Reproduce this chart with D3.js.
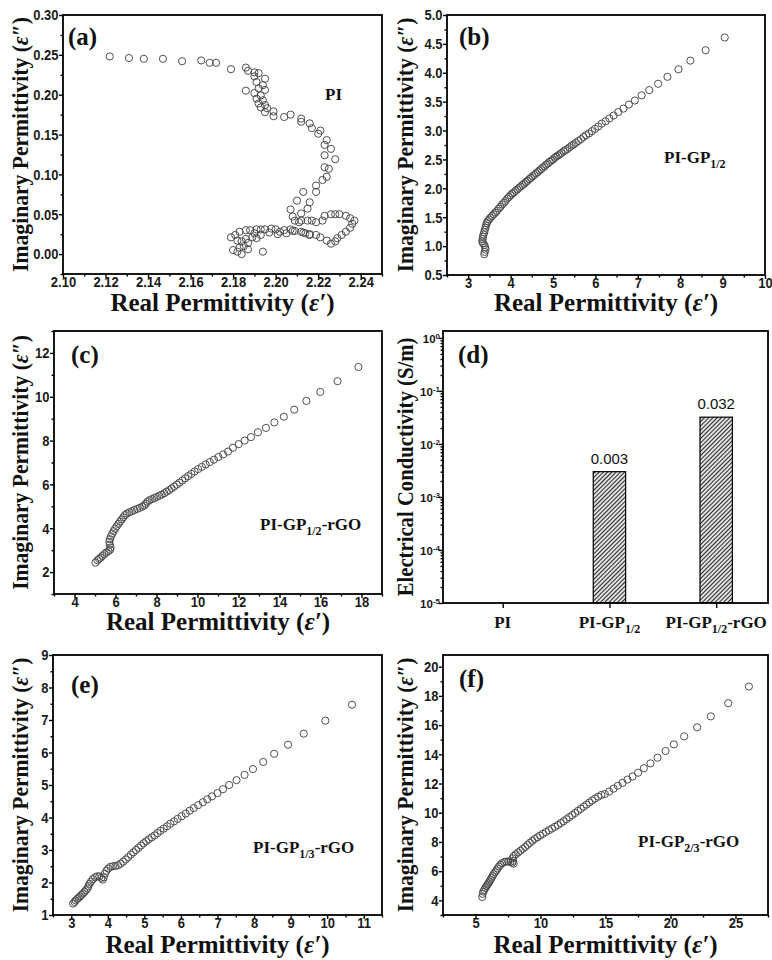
<!DOCTYPE html>
<html>
<head>
<meta charset="utf-8">
<script src="https://cdn.jsdelivr.net/npm/d3@7"></script>
<style>
  body { margin: 0; background: #fff; }
  svg { display: block; }
  .tk text { font-family: "Liberation Sans", Arial, sans-serif; font-weight: bold; font-size: 13px; fill: #1a1a1a; }
  .tk line { stroke: #000; stroke-width: 1.4; }
  .serif { font-family: "Liberation Serif", "Times New Roman", serif; font-weight: bold; fill: #111; }
</style>
</head>
<body>
<svg id="fig" width="772" height="960"></svg>
<script>
// ---- Cole–Cole data: [real ε′, imaginary ε″] ----
const piData = [
  [2.122,0.248],[2.131,0.246],[2.138,0.245],[2.147,0.245],[2.156,0.242],[2.165,0.243],[2.169,0.240],[2.172,0.240],
  [2.179,0.232],[2.186,0.234],[2.187,0.230],[2.190,0.228],[2.192,0.227],[2.190,0.223],[2.195,0.220],[2.191,0.216],
  [2.194,0.212],[2.192,0.208],[2.186,0.205],[2.190,0.202],[2.195,0.206],[2.193,0.199],[2.191,0.195],[2.194,0.193],
  [2.192,0.189],[2.195,0.187],[2.193,0.184],[2.196,0.183],[2.195,0.178],[2.199,0.179],[2.199,0.173],[2.204,0.172],
  [2.207,0.175],[2.212,0.166],[2.212,0.170],[2.216,0.164],[2.217,0.158],[2.221,0.155],[2.220,0.151],[2.224,0.143],
  [2.223,0.137],[2.226,0.132],[2.223,0.124],[2.228,0.119],[2.223,0.109],[2.225,0.107],[2.224,0.097],[2.222,0.093],
  [2.219,0.086],[2.219,0.078],[2.213,0.078],[2.216,0.065],[2.210,0.067],[2.215,0.057],[2.207,0.056],[2.212,0.051],
  [2.208,0.047],[2.211,0.040],[2.209,0.042],[2.212,0.042],[2.215,0.042],[2.217,0.042],[2.219,0.040],[2.222,0.042],
  [2.223,0.048],[2.226,0.050],[2.228,0.050],[2.230,0.050],[2.233,0.048],[2.235,0.045],[2.237,0.042],[2.236,0.038],
  [2.235,0.033],[2.233,0.028],[2.231,0.024],[2.229,0.020],[2.228,0.016],[2.226,0.013],[2.224,0.017],[2.221,0.021],
  [2.219,0.024],[2.216,0.024],[2.214,0.026],[2.212,0.028],[2.209,0.029],[2.207,0.031],[2.204,0.030],[2.202,0.028],
  [2.200,0.031],[2.198,0.032],[2.197,0.027],[2.201,0.025],[2.205,0.026],[2.208,0.029],[2.213,0.027],[2.216,0.025],
  [2.195,0.031],[2.193,0.031],[2.191,0.031],[2.188,0.030],[2.186,0.030],[2.183,0.028],[2.181,0.024],[2.179,0.021],
  [2.182,0.017],[2.184,0.016],[2.186,0.019],[2.189,0.021],[2.191,0.020],[2.193,0.024],[2.190,0.026],[2.187,0.014],
  [2.185,0.010],[2.183,0.008],[2.180,0.005],[2.182,0.003],[2.184,0.000],[2.187,0.006],[2.194,0.003]
];

const gp12Data = [
  [9.05,4.61],[8.60,4.39],[8.24,4.21],[7.96,4.06],[7.70,3.93],[7.48,3.81],[7.27,3.70],[7.09,3.61],
  [6.93,3.52],[6.79,3.45],[6.66,3.38],[6.54,3.32],[6.43,3.26],[6.33,3.21],[6.24,3.16],[6.15,3.12],
  [6.07,3.07],[5.99,3.03],[5.92,2.99],[5.85,2.95],[5.78,2.92],[5.72,2.89],[5.66,2.85],[5.60,2.82],
  [5.54,2.79],[5.49,2.76],[5.44,2.74],[5.39,2.71],[5.34,2.68],[5.29,2.66],[5.25,2.64],[5.20,2.61],
  [5.16,2.59],[5.12,2.57],[5.08,2.55],[5.04,2.53],[5.00,2.50],[4.96,2.48],[4.92,2.46],[4.88,2.43],
  [4.84,2.41],[4.80,2.38],[4.76,2.36],[4.72,2.33],[4.68,2.31],[4.64,2.28],[4.60,2.26],[4.56,2.23],
  [4.52,2.21],[4.48,2.18],[4.44,2.16],[4.40,2.13],[4.36,2.11],[4.32,2.08],[4.28,2.06],[4.24,2.03],
  [4.20,2.01],[4.16,1.98],[4.12,1.96],[4.08,1.93],[4.04,1.91],[4.00,1.88],[3.96,1.85],[3.92,1.82],
  [3.88,1.78],[3.84,1.75],[3.80,1.72],[3.76,1.68],[3.72,1.65],[3.68,1.61],[3.64,1.58],[3.60,1.55],
  [3.56,1.52],[3.52,1.49],[3.49,1.46],[3.46,1.43],[3.44,1.40],[3.42,1.36],[3.41,1.32],[3.39,1.28],
  [3.38,1.24],[3.36,1.20],[3.35,1.16],[3.34,1.12],[3.33,1.08],[3.35,1.05],[3.38,1.02],[3.40,0.98],
  [3.41,0.94],[3.39,0.90],[3.38,0.86]
];

const gp12rgoData = [
  [17.85,11.36],[16.83,10.71],[15.99,10.22],[15.31,9.81],[14.72,9.41],[14.21,9.09],[13.75,8.83],[13.34,8.58],
  [12.95,8.38],[12.61,8.16],[12.30,8.00],[12.01,7.84],[11.73,7.67],[11.49,7.50],[11.25,7.37],[11.02,7.25],
  [10.80,7.13],[10.60,7.02],[10.40,6.91],[10.21,6.80],[10.03,6.70],[9.86,6.59],[9.70,6.48],[9.55,6.38],
  [9.40,6.28],[9.26,6.18],[9.12,6.08],[8.99,5.99],[8.86,5.90],[8.74,5.82],[8.62,5.74],[8.50,5.67],
  [8.38,5.60],[8.26,5.54],[8.14,5.48],[8.02,5.43],[7.90,5.38],[7.78,5.33],[7.66,5.28],[7.56,5.21],
  [7.48,5.12],[7.40,5.04],[7.30,4.98],[7.18,4.93],[7.05,4.88],[6.92,4.83],[6.80,4.78],[6.68,4.73],
  [6.56,4.67],[6.46,4.60],[6.38,4.50],[6.30,4.40],[6.22,4.30],[6.14,4.20],[6.06,4.09],[5.98,3.98],
  [5.91,3.87],[5.84,3.75],[5.78,3.63],[5.73,3.50],[5.70,3.38],[5.72,3.25],[5.76,3.12],[5.74,3.02],
  [5.66,2.96],[5.56,2.90],[5.46,2.82],[5.36,2.74],[5.28,2.66],[5.20,2.60],[5.12,2.54],[5.02,2.43]
];

const gp13rgoData = [
  [3.05,1.35],[3.09,1.40],[3.12,1.45],[3.16,1.49],[3.20,1.53],[3.24,1.57],[3.28,1.62],[3.32,1.66],
  [3.36,1.71],[3.40,1.76],[3.44,1.82],[3.47,1.89],[3.50,1.96],[3.54,2.03],[3.59,2.10],[3.65,2.16],
  [3.71,2.19],[3.77,2.19],[3.82,2.14],[3.86,2.09],[3.89,2.16],[3.92,2.27],[3.96,2.36],[4.01,2.43],
  [4.07,2.48],[4.14,2.50],[4.21,2.51],[4.28,2.53],[4.35,2.58],[4.42,2.64],[4.49,2.71],[4.56,2.78],
  [4.63,2.86],[4.70,2.93],[4.77,3.00],[4.84,3.07],[4.91,3.14],[4.98,3.21],[5.05,3.27],[5.12,3.33],
  [5.20,3.39],[5.28,3.45],[5.36,3.52],[5.44,3.59],[5.53,3.66],[5.62,3.73],[5.71,3.81],[5.81,3.88],
  [5.91,3.96],[6.02,4.04],[6.13,4.12],[6.24,4.21],[6.35,4.29],[6.47,4.38],[6.60,4.47],[6.72,4.56],
  [6.85,4.65],[7.00,4.75],[7.15,4.87],[7.32,5.00],[7.52,5.15],[7.74,5.31],[7.97,5.49],[8.25,5.71],
  [8.55,5.96],[8.93,6.24],[9.36,6.58],[9.95,6.98],[10.68,7.47]
];

const gp23rgoData = [
  [5.52,4.23],[5.55,4.45],[5.60,4.60],[5.68,4.72],[5.76,4.85],[5.84,4.97],[5.92,5.08],[6.00,5.18],
  [6.08,5.30],[6.16,5.42],[6.24,5.55],[6.32,5.67],[6.40,5.80],[6.50,5.93],[6.60,6.05],[6.70,6.18],
  [6.80,6.32],[6.92,6.44],[7.05,6.55],[7.20,6.62],[7.36,6.66],[7.52,6.66],[7.68,6.64],[7.82,6.58],
  [7.94,6.52],[7.90,6.70],[7.85,6.88],[7.95,7.04],[8.10,7.16],[8.28,7.28],[8.46,7.40],[8.64,7.53],
  [8.82,7.66],[9.00,7.80],[9.18,7.94],[9.37,8.08],[9.56,8.20],[9.76,8.32],[9.97,8.44],[10.19,8.56],
  [10.42,8.68],[10.65,8.80],[10.88,8.92],[11.11,9.04],[11.34,9.16],[11.56,9.29],[11.78,9.42],[12.00,9.56],
  [12.22,9.70],[12.44,9.84],[12.66,9.98],[12.88,10.13],[13.10,10.27],[13.32,10.42],[13.54,10.56],[13.76,10.70],
  [13.98,10.84],[14.20,10.97],[14.44,11.10],[14.68,11.22],[14.95,11.28],[15.28,11.45],[15.62,11.65],[15.95,11.85],
  [16.31,12.05],[16.69,12.27],[17.08,12.48],[17.51,12.74],[17.95,13.05],[18.46,13.38],[19.00,13.77],[19.62,14.23],
  [20.26,14.68],[21.05,15.23],[22.05,15.85],[23.10,16.60],[24.44,17.50],[26.03,18.64]
];

// ---- electrical conductivity bars ----
const sigmaCategories = ["PI", "PI-GP1/2", "PI-GP1/2-rGO"];
const sigmaValues = [null, 0.003, 0.032];

// ---- tick labels ----
const aXTicks = [2.10, 2.12, 2.14, 2.16, 2.18, 2.20, 2.22, 2.24];
const aYTicks = [0.00, 0.05, 0.10, 0.15, 0.20, 0.25, 0.30];
const bXTicks = [3, 4, 5, 6, 7, 8, 9, 10];
const bYTicks = [0.5, 1.0, 1.5, 2.0, 2.5, 3.0, 3.5, 4.0, 4.5, 5.0];
const cXTicks = [4, 6, 8, 10, 12, 14, 16, 18];
const cYTicks = [2, 4, 6, 8, 10, 12];
const dYTicks = [1, 1e-1, 1e-2, 1e-3, 1e-4, 1e-5];
const eXTicks = [3, 4, 5, 6, 7, 8, 9, 10, 11];
const eYTicks = [1, 2, 3, 4, 5, 6, 7, 8, 9];
const fXTicks = [5, 10, 15, 20, 25];
const fYTicks = [4, 6, 8, 10, 12, 14, 16, 18, 20];

const svg = d3.select("#fig");

// diagonal hatch for the bars
const defs = svg.append("defs");
const hatch = defs.append("pattern")
  .attr("id", "hatch").attr("patternUnits", "userSpaceOnUse")
  .attr("width", 3).attr("height", 3).attr("patternTransform", "rotate(45)");
hatch.append("rect").attr("width", 3).attr("height", 3).attr("fill", "#efefef");
hatch.append("line").attr("x1", 1.5).attr("y1", 0).attr("x2", 1.5).attr("y2", 3)
  .attr("stroke", "#2a2a2a").attr("stroke-width", 1.15);

// text with "n/m" fractions set as subscripts
function richLabel(textSel, label, subSize, shift) {
  const parts = label.split(/(\d\/\d)/).filter(s => s.length);
  let lowered = false;
  parts.forEach(p => {
    const t = textSel.append("tspan").text(p);
    if (/^\d\/\d$/.test(p)) { t.attr("font-size", subSize).attr("dy", shift); lowered = true; }
    else if (lowered) { t.attr("dy", -shift); lowered = false; }
  });
  return textSel;
}

function epsTitle(g, x, y, base, primes, size, rotate) {
  const t = g.append("text").attr("class", "serif").attr("font-size", size)
    .attr("text-anchor", "middle");
  if (rotate) t.attr("transform", `translate(${x},${y}) rotate(-90) scale(0.9,1)`);
  else t.attr("x", x).attr("y", y);
  t.append("tspan").text(base + " (");
  t.append("tspan").attr("font-style", "italic").text("ε" + primes);
  t.append("tspan").text(")");
}

function minorValues(domain, step, majors) {
  const lo = Math.ceil(Math.min(...domain) / step - 1e-9);
  const hi = Math.floor(Math.max(...domain) / step + 1e-9);
  return d3.range(lo, hi + 1).map(k => +(k * step).toFixed(6))
    .filter(v => !majors.some(m => Math.abs(m - v) < step * 1e-3));
}

function styleAxis(sel) {
  sel.attr("font-size", null).attr("font-family", null).attr("class", "tk");
  sel.select(".domain").remove();
}
// tick numerals are drawn slightly tall
function tallText(sel) {
  sel.selectAll(".tick text").attr("transform", "scale(1,1.15)");
}

function drawScatter(p) {
  const [x0, y0, x1, y1] = p.box;
  const g = svg.append("g");
  const x = d3.scaleLinear().domain(p.xDomain).range([x0, x1]);
  const y = d3.scaleLinear().domain(p.yDomain).range([y1, y0]);

  g.append("g").selectAll("circle").data(p.data).join("circle")
    .attr("cx", d => x(d[0])).attr("cy", d => y(d[1])).attr("r", 3.6)
    .attr("fill", "none").attr("stroke", "#474747").attr("stroke-width", 0.95);

  // minor ticks
  g.append("g").attr("transform", `translate(0,${y1})`)
    .call(d3.axisBottom(x).tickValues(minorValues(p.xDomain, p.xMinor, p.xTicks)).tickSize(2.5).tickFormat(""))
    .call(styleAxis);
  g.append("g").attr("transform", `translate(${x0},0)`)
    .call(d3.axisLeft(y).tickValues(minorValues(p.yDomain, p.yMinor, p.yTicks)).tickSize(2.5).tickFormat(""))
    .call(styleAxis);
  // major ticks
  g.append("g").attr("transform", `translate(0,${y1})`)
    .call(d3.axisBottom(x).tickValues(p.xTicks).tickSize(4).tickPadding(-2.2).tickFormat(d3.format(p.xFormat)))
    .call(styleAxis).call(tallText);
  g.append("g").attr("transform", `translate(${x0},0)`)
    .call(d3.axisLeft(y).tickValues(p.yTicks).tickSize(4).tickPadding(0.5).tickFormat(d3.format(p.yFormat)))
    .call(styleAxis).call(tallText);

  g.append("rect").attr("x", x0).attr("y", y0).attr("width", x1 - x0).attr("height", y1 - y0)
    .attr("fill", "none").attr("stroke", "#000").attr("stroke-width", 1.8);

  g.append("text").attr("class", "serif").attr("font-size", 25)
    .attr("x", p.letterAt[0]).attr("y", p.letterAt[1]).text(p.letter);
  richLabel(g.append("text").attr("class", "serif").attr("font-size", 17)
    .attr("x", p.nameAt[0]).attr("y", p.nameAt[1]), p.name, 12, 5);

  epsTitle(g, (x0 + x1) / 2, p.xTitleY, "Real Permittivity", "′", 25, false);
  epsTitle(g, p.yTitleX, (y0 + y1) / 2, "Imaginary Permittivity", "″", 24, true);
}

drawScatter({ data: piData, box: [63, 15, 382, 274], xDomain: [2.10, 2.25], yDomain: [-0.025, 0.30],
  xTicks: aXTicks, yTicks: aYTicks, xMinor: 0.01, yMinor: 0.025, xFormat: ".2f", yFormat: ".2f",
  letter: "(a)", letterAt: [68, 45], name: "PI", nameAt: [325, 100], xTitleY: 311, yTitleX: 28 });

drawScatter({ data: gp12Data, box: [447, 15, 765, 275], xDomain: [2.5, 10], yDomain: [0.5, 5.0],
  xTicks: bXTicks, yTicks: bYTicks, xMinor: 0.5, yMinor: 0.25, xFormat: "d", yFormat: ".1f",
  letter: "(b)", letterAt: [459, 45], name: "PI-GP1/2", nameAt: [664, 163], xTitleY: 311, yTitleX: 413 });

drawScatter({ data: gp12rgoData, box: [54, 331, 382, 594], xDomain: [3, 19], yDomain: [1, 13],
  xTicks: cXTicks, yTicks: cYTicks, xMinor: 1, yMinor: 1, xFormat: "d", yFormat: "d",
  letter: "(c)", letterAt: [71, 363], name: "PI-GP1/2-rGO", nameAt: [260, 530], xTitleY: 630, yTitleX: 28 });

drawScatter({ data: gp13rgoData, box: [53, 655, 382, 915], xDomain: [2.5, 11.5], yDomain: [1, 9],
  xTicks: eXTicks, yTicks: eYTicks, xMinor: 0.5, yMinor: 0.5, xFormat: "d", yFormat: "d",
  letter: "(e)", letterAt: [71, 693], name: "PI-GP1/3-rGO", nameAt: [253, 853], xTitleY: 953, yTitleX: 28 });

drawScatter({ data: gp23rgoData, box: [443, 655, 768, 915], xDomain: [2.5, 27.5], yDomain: [3, 20.8],
  xTicks: fXTicks, yTicks: fYTicks, xMinor: 2.5, yMinor: 1, xFormat: "d", yFormat: "d",
  letter: "(f)", letterAt: [459, 687], name: "PI-GP2/3-rGO", nameAt: [638, 847], xTitleY: 953, yTitleX: 413 });

// ---- (d) conductivity bar chart on a log axis ----
(function drawBars() {
  const [x0, y0, x1, y1] = [443, 331, 768, 603];
  const g = svg.append("g");
  const x = d3.scalePoint().domain(sigmaCategories).range([502.7, 716.2]);
  const y = d3.scaleLog().domain([1e-5, 1.35]).range([y1, y0]);
  const barW = 32.4;
  const rows = sigmaCategories.map((c, i) => ({ c, v: sigmaValues[i] })).filter(d => d.v != null);

  g.append("g").selectAll("rect").data(rows).join("rect")
    .attr("x", d => x(d.c) - barW / 2).attr("width", barW)
    .attr("y", d => y(d.v)).attr("height", d => y1 - y(d.v))
    .attr("fill", "url(#hatch)").attr("stroke", "#000").attr("stroke-width", 1.2);

  g.append("g").selectAll("text").data(rows).join("text")
    .attr("x", d => x(d.c)).attr("y", d => y(d.v) - 8)
    .attr("text-anchor", "middle")
    .attr("font-family", "Liberation Sans, Arial, sans-serif").attr("font-size", 15).attr("fill", "#111")
    .text(d => d3.format(".3f")(d.v));

  // log minor ticks
  const minors = [];
  d3.range(-5, 1).forEach(k => d3.range(2, 10).forEach(m => {
    const v = m * Math.pow(10, k);
    if (v <= y.domain()[1]) minors.push(v);
  }));
  g.append("g").attr("transform", `translate(${x0},0)`)
    .call(d3.axisLeft(y).tickValues(minors).tickSize(2.5).tickFormat(""))
    .call(styleAxis);
  const yAxis = g.append("g").attr("transform", `translate(${x0},0)`)
    .call(d3.axisLeft(y).tickValues(dYTicks).tickSize(4).tickFormat(""))
    .call(styleAxis);
  yAxis.selectAll(".tick").append("text")
    .attr("x", -3).attr("dy", "0.42em").attr("text-anchor", "end")
    .style("font-size", "11.5px")
    .each(function (d) {
      const t = d3.select(this);
      const exp = Math.round(Math.log10(d));
      t.append("tspan").text("10");
      t.append("tspan").attr("font-size", 8).attr("dy", "-0.55em").text(String(exp));
    });

  g.append("g").attr("transform", `translate(0,${y1})`)
    .call(d3.axisBottom(x).tickSize(5).tickFormat(""))
    .call(styleAxis);

  g.append("rect").attr("x", x0).attr("y", y0).attr("width", x1 - x0).attr("height", y1 - y0)
    .attr("fill", "none").attr("stroke", "#000").attr("stroke-width", 1.8);

  sigmaCategories.forEach(c => {
    richLabel(g.append("text").attr("class", "serif").attr("font-size", 17)
      .attr("text-anchor", "middle").attr("x", x(c)).attr("y", 628), c, 12, 5);
  });

  g.append("text").attr("class", "serif").attr("font-size", 25)
    .attr("x", 458).attr("y", 363).text("(d)");
  g.append("text").attr("class", "serif").attr("font-size", 23)
    .attr("text-anchor", "middle")
    .attr("transform", `translate(413,${(y0 + y1) / 2}) rotate(-90) scale(0.9,1)`)
    .text("Electrical Conductivity (S/m)");
})();
</script>
</body>
</html>
